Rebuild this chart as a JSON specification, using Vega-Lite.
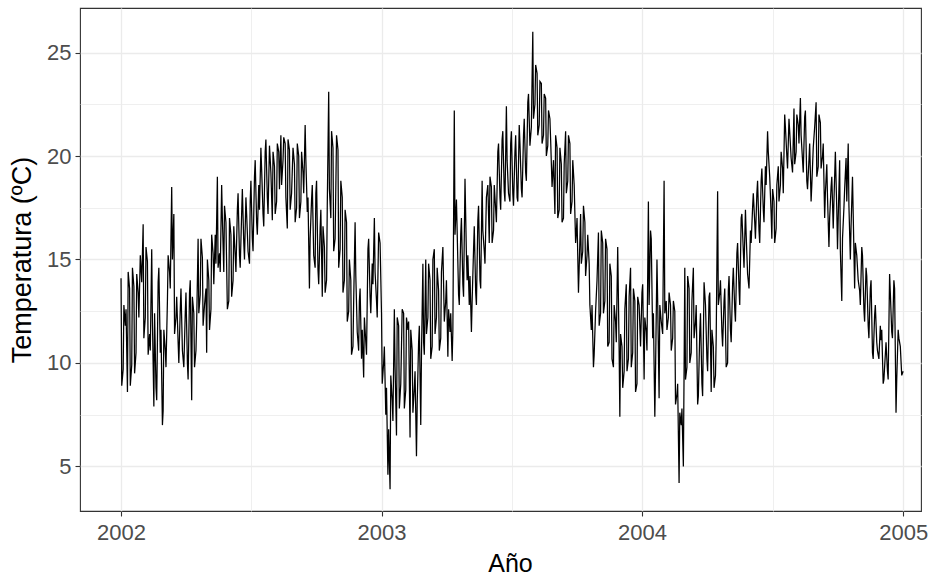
{
  "$schema": "https://vega.github.io/schema/vega-lite/v6.json",
  "width": 841,
  "height": 503,
  "autosize": {"type": "none"},
  "padding": {"left": 80, "top": 8, "right": 14, "bottom": 73},
  "background": "white",
  "config": {
    "font": "Liberation Sans",
    "view": {"stroke": "#333333", "strokeWidth": 1.1}
  },
  "data": {
    "values": [
      {"d":"2002-01-01","t":14.1},{"d":"2002-01-02","t":8.9},{"d":"2002-01-04","t":9.7},{"d":"2002-01-05","t":12.8},{"d":"2002-01-07","t":11.8},{"d":"2002-01-08","t":12.6},{"d":"2002-01-10","t":8.6},{"d":"2002-01-11","t":14.4},{"d":"2002-01-13","t":13.6},{"d":"2002-01-14","t":8.9},{"d":"2002-01-16","t":9.9},{"d":"2002-01-17","t":14.6},{"d":"2002-01-19","t":13.7},{"d":"2002-01-20","t":9.5},{"d":"2002-01-22","t":10.5},{"d":"2002-01-23","t":14.3},{"d":"2002-01-25","t":13.4},{"d":"2002-01-26","t":12.2},{"d":"2002-01-28","t":15.2},{"d":"2002-01-30","t":13.9},
      {"d":"2002-02-01","t":16.7},{"d":"2002-02-02","t":11.2},{"d":"2002-02-04","t":12.2},{"d":"2002-02-05","t":15.6},{"d":"2002-02-07","t":14.9},{"d":"2002-02-08","t":10.4},{"d":"2002-02-10","t":11.4},{"d":"2002-02-11","t":10.6},{"d":"2002-02-13","t":15.5},{"d":"2002-02-14","t":12.0},{"d":"2002-02-16","t":7.9},{"d":"2002-02-17","t":12.4},{"d":"2002-02-19","t":8.8},{"d":"2002-02-20","t":8.2},{"d":"2002-02-22","t":13.9},{"d":"2002-02-23","t":14.6},{"d":"2002-02-25","t":10.5},{"d":"2002-02-26","t":11.6},{"d":"2002-02-28","t":7.0},
      {"d":"2002-03-01","t":7.7},{"d":"2002-03-02","t":11.6},{"d":"2002-03-04","t":10.6},{"d":"2002-03-05","t":9.8},{"d":"2002-03-07","t":13.0},{"d":"2002-03-08","t":15.2},{"d":"2002-03-10","t":14.4},{"d":"2002-03-11","t":13.6},{"d":"2002-03-13","t":18.5},{"d":"2002-03-14","t":15.0},{"d":"2002-03-16","t":17.2},{"d":"2002-03-17","t":11.4},{"d":"2002-03-19","t":12.2},{"d":"2002-03-20","t":13.2},{"d":"2002-03-22","t":11.0},{"d":"2002-03-23","t":10.0},{"d":"2002-03-25","t":12.6},{"d":"2002-03-26","t":13.6},{"d":"2002-03-28","t":10.6},{"d":"2002-03-30","t":9.8},
      {"d":"2002-04-01","t":12.4},{"d":"2002-04-02","t":13.4},{"d":"2002-04-04","t":10.0},{"d":"2002-04-05","t":9.2},{"d":"2002-04-07","t":13.4},{"d":"2002-04-08","t":14.0},{"d":"2002-04-10","t":8.2},{"d":"2002-04-11","t":13.2},{"d":"2002-04-13","t":12.4},{"d":"2002-04-14","t":9.8},{"d":"2002-04-16","t":10.6},{"d":"2002-04-17","t":12.0},{"d":"2002-04-19","t":16.0},{"d":"2002-04-20","t":12.4},{"d":"2002-04-22","t":13.3},{"d":"2002-04-23","t":16.0},{"d":"2002-04-25","t":15.1},{"d":"2002-04-26","t":11.8},{"d":"2002-04-28","t":12.8},{"d":"2002-04-30","t":13.6},
      {"d":"2002-05-01","t":10.5},{"d":"2002-05-02","t":15.0},{"d":"2002-05-04","t":14.0},{"d":"2002-05-05","t":11.6},{"d":"2002-05-07","t":12.6},{"d":"2002-05-08","t":16.2},{"d":"2002-05-10","t":15.3},{"d":"2002-05-11","t":13.8},{"d":"2002-05-13","t":16.2},{"d":"2002-05-14","t":14.8},{"d":"2002-05-16","t":19.0},{"d":"2002-05-17","t":14.6},{"d":"2002-05-19","t":15.3},{"d":"2002-05-20","t":14.4},{"d":"2002-05-22","t":18.6},{"d":"2002-05-23","t":17.0},{"d":"2002-05-25","t":14.4},{"d":"2002-05-26","t":17.6},{"d":"2002-05-28","t":16.8},{"d":"2002-05-30","t":12.6},
      {"d":"2002-06-01","t":13.0},{"d":"2002-06-02","t":17.0},{"d":"2002-06-04","t":16.2},{"d":"2002-06-05","t":13.2},{"d":"2002-06-07","t":14.0},{"d":"2002-06-08","t":16.6},{"d":"2002-06-10","t":15.2},{"d":"2002-06-11","t":14.4},{"d":"2002-06-13","t":17.4},{"d":"2002-06-14","t":18.2},{"d":"2002-06-16","t":15.2},{"d":"2002-06-17","t":14.6},{"d":"2002-06-19","t":17.2},{"d":"2002-06-20","t":18.4},{"d":"2002-06-22","t":15.8},{"d":"2002-06-23","t":15.0},{"d":"2002-06-25","t":18.0},{"d":"2002-06-26","t":17.2},{"d":"2002-06-28","t":15.4},{"d":"2002-06-30","t":14.8},
      {"d":"2002-07-01","t":17.8},{"d":"2002-07-02","t":18.8},{"d":"2002-07-04","t":16.0},{"d":"2002-07-05","t":15.4},{"d":"2002-07-07","t":19.0},{"d":"2002-07-08","t":19.8},{"d":"2002-07-10","t":16.8},{"d":"2002-07-11","t":16.2},{"d":"2002-07-13","t":18.6},{"d":"2002-07-14","t":17.4},{"d":"2002-07-16","t":20.4},{"d":"2002-07-17","t":19.4},{"d":"2002-07-19","t":17.2},{"d":"2002-07-20","t":16.6},{"d":"2002-07-22","t":20.2},{"d":"2002-07-23","t":20.8},{"d":"2002-07-25","t":18.0},{"d":"2002-07-26","t":17.2},{"d":"2002-07-28","t":20.5},{"d":"2002-07-30","t":19.2},
      {"d":"2002-08-01","t":16.9},{"d":"2002-08-02","t":20.2},{"d":"2002-08-04","t":19.5},{"d":"2002-08-05","t":17.2},{"d":"2002-08-07","t":17.8},{"d":"2002-08-08","t":20.6},{"d":"2002-08-10","t":20.2},{"d":"2002-08-11","t":18.4},{"d":"2002-08-13","t":21.0},{"d":"2002-08-14","t":18.6},{"d":"2002-08-16","t":19.8},{"d":"2002-08-17","t":20.9},{"d":"2002-08-19","t":20.6},{"d":"2002-08-20","t":18.0},{"d":"2002-08-22","t":16.5},{"d":"2002-08-23","t":20.8},{"d":"2002-08-25","t":20.3},{"d":"2002-08-26","t":17.4},{"d":"2002-08-28","t":18.2},{"d":"2002-08-30","t":20.4},
      {"d":"2002-09-01","t":19.6},{"d":"2002-09-02","t":16.8},{"d":"2002-09-04","t":17.5},{"d":"2002-09-05","t":20.6},{"d":"2002-09-07","t":20.0},{"d":"2002-09-08","t":17.0},{"d":"2002-09-10","t":17.8},{"d":"2002-09-11","t":20.2},{"d":"2002-09-13","t":19.2},{"d":"2002-09-14","t":18.2},{"d":"2002-09-16","t":21.5},{"d":"2002-09-17","t":19.8},{"d":"2002-09-19","t":17.3},{"d":"2002-09-20","t":18.0},{"d":"2002-09-22","t":13.6},{"d":"2002-09-23","t":16.0},{"d":"2002-09-25","t":17.9},{"d":"2002-09-26","t":18.6},{"d":"2002-09-28","t":15.2},{"d":"2002-09-30","t":14.6},
      {"d":"2002-10-01","t":18.2},{"d":"2002-10-02","t":18.8},{"d":"2002-10-04","t":14.5},{"d":"2002-10-05","t":13.8},{"d":"2002-10-07","t":16.5},{"d":"2002-10-08","t":17.4},{"d":"2002-10-10","t":13.2},{"d":"2002-10-11","t":16.6},{"d":"2002-10-13","t":15.6},{"d":"2002-10-14","t":13.4},{"d":"2002-10-16","t":14.0},{"d":"2002-10-17","t":17.6},{"d":"2002-10-19","t":23.1},{"d":"2002-10-20","t":18.4},{"d":"2002-10-22","t":17.0},{"d":"2002-10-23","t":21.2},{"d":"2002-10-25","t":20.4},{"d":"2002-10-26","t":15.4},{"d":"2002-10-28","t":16.0},{"d":"2002-10-30","t":21.0},
      {"d":"2002-11-01","t":20.3},{"d":"2002-11-02","t":14.6},{"d":"2002-11-04","t":15.5},{"d":"2002-11-05","t":18.8},{"d":"2002-11-07","t":18.0},{"d":"2002-11-08","t":13.4},{"d":"2002-11-10","t":14.0},{"d":"2002-11-11","t":17.4},{"d":"2002-11-13","t":16.8},{"d":"2002-11-14","t":12.0},{"d":"2002-11-16","t":12.5},{"d":"2002-11-17","t":15.0},{"d":"2002-11-19","t":14.0},{"d":"2002-11-20","t":10.4},{"d":"2002-11-22","t":10.8},{"d":"2002-11-23","t":13.0},{"d":"2002-11-25","t":16.8},{"d":"2002-11-26","t":14.2},{"d":"2002-11-28","t":11.5},{"d":"2002-11-30","t":10.6},
      {"d":"2002-12-01","t":13.0},{"d":"2002-12-02","t":13.6},{"d":"2002-12-04","t":10.2},{"d":"2002-12-05","t":11.6},{"d":"2002-12-07","t":9.3},{"d":"2002-12-08","t":12.2},{"d":"2002-12-10","t":11.0},{"d":"2002-12-11","t":10.4},{"d":"2002-12-13","t":15.5},{"d":"2002-12-14","t":16.0},{"d":"2002-12-16","t":13.2},{"d":"2002-12-17","t":12.4},{"d":"2002-12-19","t":14.8},{"d":"2002-12-20","t":13.8},{"d":"2002-12-22","t":17.0},{"d":"2002-12-23","t":14.4},{"d":"2002-12-25","t":13.0},{"d":"2002-12-26","t":12.2},{"d":"2002-12-28","t":16.3},{"d":"2002-12-30","t":15.8},
      {"d":"2003-01-01","t":12.4},{"d":"2003-01-02","t":9.0},{"d":"2003-01-04","t":10.0},{"d":"2003-01-05","t":10.8},{"d":"2003-01-07","t":7.5},{"d":"2003-01-08","t":8.8},{"d":"2003-01-10","t":4.6},{"d":"2003-01-11","t":6.8},{"d":"2003-01-13","t":3.9},{"d":"2003-01-14","t":9.4},{"d":"2003-01-16","t":8.2},{"d":"2003-01-17","t":7.2},{"d":"2003-01-19","t":12.6},{"d":"2003-01-20","t":9.8},{"d":"2003-01-22","t":6.5},{"d":"2003-01-23","t":12.2},{"d":"2003-01-25","t":11.8},{"d":"2003-01-26","t":7.8},{"d":"2003-01-28","t":9.0},{"d":"2003-01-30","t":12.6},
      {"d":"2003-02-01","t":12.4},{"d":"2003-02-02","t":7.8},{"d":"2003-02-04","t":8.7},{"d":"2003-02-05","t":12.2},{"d":"2003-02-07","t":11.6},{"d":"2003-02-08","t":12.0},{"d":"2003-02-10","t":6.4},{"d":"2003-02-11","t":11.6},{"d":"2003-02-13","t":10.6},{"d":"2003-02-14","t":7.6},{"d":"2003-02-16","t":8.8},{"d":"2003-02-17","t":9.6},{"d":"2003-02-19","t":5.5},{"d":"2003-02-20","t":8.0},{"d":"2003-02-22","t":11.0},{"d":"2003-02-23","t":11.8},{"d":"2003-02-25","t":7.0},{"d":"2003-02-26","t":10.4},{"d":"2003-02-28","t":14.8},
      {"d":"2003-03-01","t":11.0},{"d":"2003-03-02","t":10.4},{"d":"2003-03-04","t":15.0},{"d":"2003-03-05","t":11.4},{"d":"2003-03-07","t":12.2},{"d":"2003-03-08","t":14.8},{"d":"2003-03-10","t":14.0},{"d":"2003-03-11","t":10.2},{"d":"2003-03-13","t":10.8},{"d":"2003-03-14","t":15.0},{"d":"2003-03-16","t":15.5},{"d":"2003-03-17","t":11.4},{"d":"2003-03-19","t":12.2},{"d":"2003-03-20","t":14.6},{"d":"2003-03-22","t":13.5},{"d":"2003-03-23","t":10.6},{"d":"2003-03-25","t":11.2},{"d":"2003-03-26","t":14.4},{"d":"2003-03-28","t":15.6},{"d":"2003-03-30","t":12.0},
      {"d":"2003-04-01","t":13.0},{"d":"2003-04-02","t":14.0},{"d":"2003-04-04","t":10.3},{"d":"2003-04-05","t":12.6},{"d":"2003-04-07","t":11.5},{"d":"2003-04-08","t":12.4},{"d":"2003-04-10","t":10.1},{"d":"2003-04-11","t":11.6},{"d":"2003-04-13","t":22.2},{"d":"2003-04-14","t":16.2},{"d":"2003-04-16","t":17.9},{"d":"2003-04-17","t":16.4},{"d":"2003-04-19","t":13.3},{"d":"2003-04-20","t":12.8},{"d":"2003-04-22","t":16.2},{"d":"2003-04-23","t":17.0},{"d":"2003-04-25","t":13.8},{"d":"2003-04-26","t":13.2},{"d":"2003-04-28","t":18.9},{"d":"2003-04-30","t":15.2},
      {"d":"2003-05-01","t":14.0},{"d":"2003-05-02","t":15.2},{"d":"2003-05-04","t":12.8},{"d":"2003-05-05","t":14.2},{"d":"2003-05-07","t":11.5},{"d":"2003-05-08","t":13.0},{"d":"2003-05-10","t":15.5},{"d":"2003-05-11","t":16.6},{"d":"2003-05-13","t":13.4},{"d":"2003-05-14","t":12.8},{"d":"2003-05-16","t":16.9},{"d":"2003-05-17","t":17.6},{"d":"2003-05-19","t":14.0},{"d":"2003-05-20","t":13.6},{"d":"2003-05-22","t":18.8},{"d":"2003-05-23","t":16.4},{"d":"2003-05-25","t":15.4},{"d":"2003-05-26","t":14.8},{"d":"2003-05-28","t":18.0},{"d":"2003-05-30","t":18.6},
      {"d":"2003-06-01","t":15.8},{"d":"2003-06-02","t":19.0},{"d":"2003-06-04","t":18.5},{"d":"2003-06-05","t":15.8},{"d":"2003-06-07","t":16.4},{"d":"2003-06-08","t":18.6},{"d":"2003-06-10","t":17.4},{"d":"2003-06-11","t":16.8},{"d":"2003-06-13","t":20.2},{"d":"2003-06-14","t":20.6},{"d":"2003-06-16","t":18.0},{"d":"2003-06-17","t":17.4},{"d":"2003-06-19","t":20.8},{"d":"2003-06-20","t":21.2},{"d":"2003-06-22","t":18.3},{"d":"2003-06-23","t":17.8},{"d":"2003-06-25","t":22.4},{"d":"2003-06-26","t":19.8},{"d":"2003-06-28","t":18.2},{"d":"2003-06-30","t":17.8},
      {"d":"2003-07-01","t":20.6},{"d":"2003-07-02","t":21.2},{"d":"2003-07-04","t":18.2},{"d":"2003-07-05","t":17.6},{"d":"2003-07-07","t":20.2},{"d":"2003-07-08","t":21.0},{"d":"2003-07-10","t":18.0},{"d":"2003-07-11","t":17.8},{"d":"2003-07-13","t":21.5},{"d":"2003-07-14","t":20.6},{"d":"2003-07-16","t":18.4},{"d":"2003-07-17","t":18.0},{"d":"2003-07-19","t":21.0},{"d":"2003-07-20","t":21.8},{"d":"2003-07-22","t":19.2},{"d":"2003-07-23","t":18.8},{"d":"2003-07-25","t":22.6},{"d":"2003-07-26","t":23.0},{"d":"2003-07-28","t":20.5},{"d":"2003-07-30","t":21.4},
      {"d":"2003-08-01","t":26.0},{"d":"2003-08-02","t":21.8},{"d":"2003-08-04","t":22.5},{"d":"2003-08-05","t":24.4},{"d":"2003-08-07","t":24.0},{"d":"2003-08-08","t":21.0},{"d":"2003-08-10","t":21.5},{"d":"2003-08-11","t":23.6},{"d":"2003-08-13","t":23.5},{"d":"2003-08-14","t":20.6},{"d":"2003-08-16","t":21.0},{"d":"2003-08-17","t":23.0},{"d":"2003-08-19","t":22.8},{"d":"2003-08-20","t":20.0},{"d":"2003-08-22","t":20.5},{"d":"2003-08-23","t":22.2},{"d":"2003-08-25","t":21.8},{"d":"2003-08-26","t":20.8},{"d":"2003-08-28","t":18.5},{"d":"2003-08-30","t":19.8},
      {"d":"2003-09-01","t":17.2},{"d":"2003-09-02","t":21.0},{"d":"2003-09-04","t":20.4},{"d":"2003-09-05","t":17.0},{"d":"2003-09-07","t":17.4},{"d":"2003-09-08","t":20.4},{"d":"2003-09-10","t":19.6},{"d":"2003-09-11","t":16.8},{"d":"2003-09-13","t":17.0},{"d":"2003-09-14","t":19.6},{"d":"2003-09-16","t":21.2},{"d":"2003-09-17","t":18.2},{"d":"2003-09-19","t":18.8},{"d":"2003-09-20","t":21.0},{"d":"2003-09-22","t":20.6},{"d":"2003-09-23","t":17.2},{"d":"2003-09-25","t":17.8},{"d":"2003-09-26","t":19.8},{"d":"2003-09-28","t":18.6},{"d":"2003-09-30","t":15.8},
      {"d":"2003-10-01","t":16.3},{"d":"2003-10-02","t":17.0},{"d":"2003-10-04","t":13.4},{"d":"2003-10-05","t":14.6},{"d":"2003-10-07","t":17.2},{"d":"2003-10-08","t":14.8},{"d":"2003-10-10","t":15.4},{"d":"2003-10-11","t":17.6},{"d":"2003-10-13","t":16.8},{"d":"2003-10-14","t":14.2},{"d":"2003-10-16","t":15.2},{"d":"2003-10-17","t":16.2},{"d":"2003-10-19","t":14.8},{"d":"2003-10-20","t":12.8},{"d":"2003-10-22","t":11.6},{"d":"2003-10-23","t":12.8},{"d":"2003-10-25","t":9.8},{"d":"2003-10-26","t":10.4},{"d":"2003-10-28","t":12.5},{"d":"2003-10-30","t":14.0},
      {"d":"2003-11-01","t":16.3},{"d":"2003-11-02","t":11.8},{"d":"2003-11-04","t":12.4},{"d":"2003-11-05","t":16.4},{"d":"2003-11-07","t":15.8},{"d":"2003-11-08","t":12.4},{"d":"2003-11-10","t":13.0},{"d":"2003-11-11","t":16.0},{"d":"2003-11-13","t":15.5},{"d":"2003-11-14","t":10.8},{"d":"2003-11-16","t":11.0},{"d":"2003-11-17","t":14.8},{"d":"2003-11-19","t":14.2},{"d":"2003-11-20","t":10.2},{"d":"2003-11-22","t":9.8},{"d":"2003-11-23","t":12.8},{"d":"2003-11-25","t":12.0},{"d":"2003-11-26","t":11.0},{"d":"2003-11-28","t":15.6},{"d":"2003-11-30","t":10.6},
      {"d":"2003-12-01","t":7.4},{"d":"2003-12-02","t":11.4},{"d":"2003-12-04","t":10.8},{"d":"2003-12-05","t":8.8},{"d":"2003-12-07","t":9.6},{"d":"2003-12-08","t":12.6},{"d":"2003-12-10","t":13.8},{"d":"2003-12-11","t":9.6},{"d":"2003-12-13","t":10.2},{"d":"2003-12-14","t":13.2},{"d":"2003-12-16","t":14.6},{"d":"2003-12-17","t":9.8},{"d":"2003-12-19","t":10.5},{"d":"2003-12-20","t":13.6},{"d":"2003-12-22","t":13.0},{"d":"2003-12-23","t":8.6},{"d":"2003-12-25","t":9.0},{"d":"2003-12-26","t":13.2},{"d":"2003-12-28","t":12.8},{"d":"2003-12-30","t":10.8},
      {"d":"2004-01-01","t":13.4},{"d":"2004-01-02","t":13.8},{"d":"2004-01-04","t":9.2},{"d":"2004-01-05","t":12.2},{"d":"2004-01-07","t":11.5},{"d":"2004-01-08","t":10.6},{"d":"2004-01-10","t":17.8},{"d":"2004-01-11","t":12.8},{"d":"2004-01-13","t":16.4},{"d":"2004-01-14","t":16.0},{"d":"2004-01-16","t":11.2},{"d":"2004-01-17","t":12.4},{"d":"2004-01-19","t":7.4},{"d":"2004-01-20","t":9.6},{"d":"2004-01-22","t":15.0},{"d":"2004-01-23","t":13.0},{"d":"2004-01-25","t":8.3},{"d":"2004-01-26","t":12.8},{"d":"2004-01-28","t":12.0},{"d":"2004-01-30","t":11.4},
      {"d":"2004-02-01","t":18.8},{"d":"2004-02-02","t":12.4},{"d":"2004-02-04","t":13.0},{"d":"2004-02-05","t":11.6},{"d":"2004-02-07","t":12.2},{"d":"2004-02-08","t":13.4},{"d":"2004-02-10","t":12.8},{"d":"2004-02-11","t":10.6},{"d":"2004-02-13","t":11.2},{"d":"2004-02-14","t":13.0},{"d":"2004-02-16","t":12.5},{"d":"2004-02-17","t":8.0},{"d":"2004-02-19","t":8.5},{"d":"2004-02-20","t":9.0},{"d":"2004-02-22","t":4.2},{"d":"2004-02-23","t":7.6},{"d":"2004-02-25","t":7.0},{"d":"2004-02-26","t":7.8},{"d":"2004-02-28","t":5.0},{"d":"2004-02-29","t":9.6},
      {"d":"2004-03-01","t":14.6},{"d":"2004-03-02","t":9.2},{"d":"2004-03-04","t":9.8},{"d":"2004-03-05","t":14.2},{"d":"2004-03-07","t":13.6},{"d":"2004-03-08","t":10.0},{"d":"2004-03-10","t":10.5},{"d":"2004-03-11","t":13.0},{"d":"2004-03-13","t":14.6},{"d":"2004-03-14","t":11.2},{"d":"2004-03-16","t":12.0},{"d":"2004-03-17","t":12.8},{"d":"2004-03-19","t":8.0},{"d":"2004-03-20","t":8.4},{"d":"2004-03-22","t":11.5},{"d":"2004-03-23","t":12.4},{"d":"2004-03-25","t":9.0},{"d":"2004-03-26","t":8.4},{"d":"2004-03-28","t":13.9},{"d":"2004-03-30","t":12.8},
      {"d":"2004-04-01","t":10.2},{"d":"2004-04-02","t":9.6},{"d":"2004-04-04","t":13.2},{"d":"2004-04-05","t":13.4},{"d":"2004-04-07","t":8.6},{"d":"2004-04-08","t":11.6},{"d":"2004-04-10","t":10.8},{"d":"2004-04-11","t":8.8},{"d":"2004-04-13","t":9.4},{"d":"2004-04-14","t":11.2},{"d":"2004-04-16","t":18.3},{"d":"2004-04-17","t":12.8},{"d":"2004-04-19","t":13.4},{"d":"2004-04-20","t":14.0},{"d":"2004-04-22","t":11.5},{"d":"2004-04-23","t":10.8},{"d":"2004-04-25","t":13.0},{"d":"2004-04-26","t":13.6},{"d":"2004-04-28","t":9.8},{"d":"2004-04-30","t":10.0},
      {"d":"2004-05-01","t":13.5},{"d":"2004-05-02","t":14.2},{"d":"2004-05-04","t":11.6},{"d":"2004-05-05","t":11.0},{"d":"2004-05-07","t":13.8},{"d":"2004-05-08","t":14.6},{"d":"2004-05-10","t":12.6},{"d":"2004-05-11","t":12.0},{"d":"2004-05-13","t":15.3},{"d":"2004-05-14","t":15.8},{"d":"2004-05-16","t":13.6},{"d":"2004-05-17","t":12.8},{"d":"2004-05-19","t":17.0},{"d":"2004-05-20","t":17.2},{"d":"2004-05-22","t":15.4},{"d":"2004-05-23","t":14.6},{"d":"2004-05-25","t":17.4},{"d":"2004-05-26","t":16.2},{"d":"2004-05-28","t":14.3},{"d":"2004-05-30","t":13.6},
      {"d":"2004-06-01","t":16.4},{"d":"2004-06-02","t":15.8},{"d":"2004-06-04","t":17.5},{"d":"2004-06-05","t":18.2},{"d":"2004-06-07","t":16.8},{"d":"2004-06-08","t":16.0},{"d":"2004-06-10","t":18.2},{"d":"2004-06-11","t":18.8},{"d":"2004-06-13","t":16.4},{"d":"2004-06-14","t":15.8},{"d":"2004-06-16","t":18.8},{"d":"2004-06-17","t":19.4},{"d":"2004-06-19","t":17.4},{"d":"2004-06-20","t":16.8},{"d":"2004-06-22","t":19.5},{"d":"2004-06-23","t":18.6},{"d":"2004-06-25","t":21.2},{"d":"2004-06-26","t":20.2},{"d":"2004-06-28","t":19.0},{"d":"2004-06-30","t":17.2},
      {"d":"2004-07-01","t":16.0},{"d":"2004-07-02","t":18.4},{"d":"2004-07-04","t":17.8},{"d":"2004-07-05","t":15.8},{"d":"2004-07-07","t":16.5},{"d":"2004-07-08","t":18.6},{"d":"2004-07-10","t":19.5},{"d":"2004-07-11","t":17.8},{"d":"2004-07-13","t":18.6},{"d":"2004-07-14","t":20.2},{"d":"2004-07-16","t":19.4},{"d":"2004-07-17","t":18.2},{"d":"2004-07-19","t":22.0},{"d":"2004-07-20","t":21.4},{"d":"2004-07-22","t":20.0},{"d":"2004-07-23","t":19.4},{"d":"2004-07-25","t":21.8},{"d":"2004-07-26","t":21.2},{"d":"2004-07-28","t":19.9},{"d":"2004-07-30","t":19.2},
      {"d":"2004-08-01","t":22.3},{"d":"2004-08-02","t":19.6},{"d":"2004-08-04","t":20.2},{"d":"2004-08-05","t":22.0},{"d":"2004-08-07","t":21.5},{"d":"2004-08-08","t":20.6},{"d":"2004-08-10","t":22.8},{"d":"2004-08-11","t":21.0},{"d":"2004-08-13","t":19.8},{"d":"2004-08-14","t":19.2},{"d":"2004-08-16","t":21.9},{"d":"2004-08-17","t":22.2},{"d":"2004-08-19","t":18.8},{"d":"2004-08-20","t":18.4},{"d":"2004-08-22","t":19.8},{"d":"2004-08-23","t":20.6},{"d":"2004-08-25","t":17.8},{"d":"2004-08-26","t":18.6},{"d":"2004-08-28","t":20.4},{"d":"2004-08-30","t":21.4},
      {"d":"2004-09-01","t":22.6},{"d":"2004-09-02","t":19.0},{"d":"2004-09-04","t":19.5},{"d":"2004-09-05","t":22.0},{"d":"2004-09-07","t":21.6},{"d":"2004-09-08","t":19.4},{"d":"2004-09-10","t":20.0},{"d":"2004-09-11","t":20.6},{"d":"2004-09-13","t":17.0},{"d":"2004-09-14","t":18.2},{"d":"2004-09-16","t":19.6},{"d":"2004-09-17","t":18.0},{"d":"2004-09-19","t":15.6},{"d":"2004-09-20","t":17.0},{"d":"2004-09-22","t":18.5},{"d":"2004-09-23","t":19.0},{"d":"2004-09-25","t":16.5},{"d":"2004-09-26","t":17.8},{"d":"2004-09-28","t":20.2},{"d":"2004-09-30","t":17.4},
      {"d":"2004-10-01","t":15.5},{"d":"2004-10-02","t":17.0},{"d":"2004-10-04","t":19.8},{"d":"2004-10-05","t":15.4},{"d":"2004-10-07","t":13.0},{"d":"2004-10-08","t":16.0},{"d":"2004-10-10","t":17.5},{"d":"2004-10-11","t":18.4},{"d":"2004-10-13","t":19.9},{"d":"2004-10-14","t":17.8},{"d":"2004-10-16","t":20.6},{"d":"2004-10-17","t":17.6},{"d":"2004-10-19","t":15.0},{"d":"2004-10-20","t":16.6},{"d":"2004-10-22","t":19.0},{"d":"2004-10-23","t":17.2},{"d":"2004-10-25","t":13.6},{"d":"2004-10-26","t":15.8},{"d":"2004-10-28","t":15.2},{"d":"2004-10-30","t":14.0},
      {"d":"2004-11-01","t":13.5},{"d":"2004-11-02","t":12.8},{"d":"2004-11-04","t":15.6},{"d":"2004-11-05","t":15.2},{"d":"2004-11-07","t":12.6},{"d":"2004-11-08","t":12.0},{"d":"2004-11-10","t":14.6},{"d":"2004-11-11","t":14.2},{"d":"2004-11-13","t":11.8},{"d":"2004-11-14","t":11.2},{"d":"2004-11-16","t":13.6},{"d":"2004-11-17","t":14.0},{"d":"2004-11-19","t":10.5},{"d":"2004-11-20","t":10.2},{"d":"2004-11-22","t":12.3},{"d":"2004-11-23","t":12.8},{"d":"2004-11-25","t":11.0},{"d":"2004-11-26","t":10.6},{"d":"2004-11-28","t":10.2},{"d":"2004-11-30","t":11.8},
      {"d":"2004-12-01","t":11.1},{"d":"2004-12-02","t":11.6},{"d":"2004-12-04","t":9.0},{"d":"2004-12-05","t":9.2},{"d":"2004-12-07","t":10.4},{"d":"2004-12-08","t":11.0},{"d":"2004-12-10","t":9.6},{"d":"2004-12-11","t":9.2},{"d":"2004-12-13","t":14.3},{"d":"2004-12-14","t":13.4},{"d":"2004-12-16","t":11.5},{"d":"2004-12-17","t":11.2},{"d":"2004-12-19","t":14.0},{"d":"2004-12-20","t":13.6},{"d":"2004-12-22","t":7.6},{"d":"2004-12-23","t":9.2},{"d":"2004-12-25","t":11.6},{"d":"2004-12-26","t":11.2},{"d":"2004-12-28","t":10.8},{"d":"2004-12-30","t":9.4},
      {"d":"2005-01-01","t":9.6}
    ]
  },
  "mark": {"type": "line", "color": "black", "strokeWidth": 1.25, "clip": true},
  "encoding": {
    "x": {
      "field": "d",
      "type": "temporal",
      "scale": {
        "type": "utc",
        "domain": [
          {"year": 2001, "month": 11, "date": 4, "hours": 12, "utc": true},
          {"year": 2005, "month": 1, "date": 26, "utc": true}
        ]
      },
      "axis": {
        "title": "Año",
        "values": [
          {"year": 2002, "month": 1, "date": 1, "utc": true},
          {"year": 2002, "month": 7, "date": 2, "hours": 12, "utc": true},
          {"year": 2003, "month": 1, "date": 1, "utc": true},
          {"year": 2003, "month": 7, "date": 2, "hours": 12, "utc": true},
          {"year": 2004, "month": 1, "date": 1, "utc": true},
          {"year": 2004, "month": 7, "date": 2, "hours": 12, "utc": true},
          {"year": 2005, "month": 1, "date": 1, "utc": true}
        ],
        "labelExpr": "utcmonth(datum.value) == 0 ? utcFormat(datum.value, '%Y') : ''",
        "labelOverlap": false,
        "labelFlush": false,
        "grid": true,
        "gridColor": "#ebebeb",
        "gridWidth": {"condition": {"test": "utcmonth(datum.value) == 0", "value": 1.3}, "value": 0.8},
        "tickOpacity": {"condition": {"test": "utcmonth(datum.value) == 0", "value": 1}, "value": 0},
        "tickColor": "#333333",
        "tickSize": 5,
        "tickWidth": 1.1,
        "domain": false,
        "labelColor": "#4d4d4d",
        "labelFontSize": 22,
        "labelPadding": 6,
        "titleFontSize": 25,
        "titleColor": "black",
        "titleFontWeight": "normal",
        "titlePadding": 8,
        "titleX": 430
      }
    },
    "y": {
      "field": "t",
      "type": "quantitative",
      "scale": {"domain": [2.85, 27.15], "nice": false, "zero": false},
      "axis": {
        "title": "Temperatura (ºC)",
        "values": [5, 7.5, 10, 12.5, 15, 17.5, 20, 22.5, 25],
        "labelExpr": "datum.value % 5 == 0 ? format(datum.value, 'd') : ''",
        "labelOverlap": false,
        "labelFlush": false,
        "grid": true,
        "gridColor": "#ebebeb",
        "gridWidth": {"condition": {"test": "datum.value % 5 == 0", "value": 1.3}, "value": 0.8},
        "tickOpacity": {"condition": {"test": "datum.value % 5 == 0", "value": 1}, "value": 0},
        "tickColor": "#333333",
        "tickSize": 5,
        "tickWidth": 1.1,
        "domain": false,
        "labelColor": "#4d4d4d",
        "labelFontSize": 22,
        "labelPadding": 4,
        "titleFontSize": 27,
        "titleColor": "black",
        "titleFontWeight": "normal",
        "titlePadding": 10
      }
    }
  }
}
